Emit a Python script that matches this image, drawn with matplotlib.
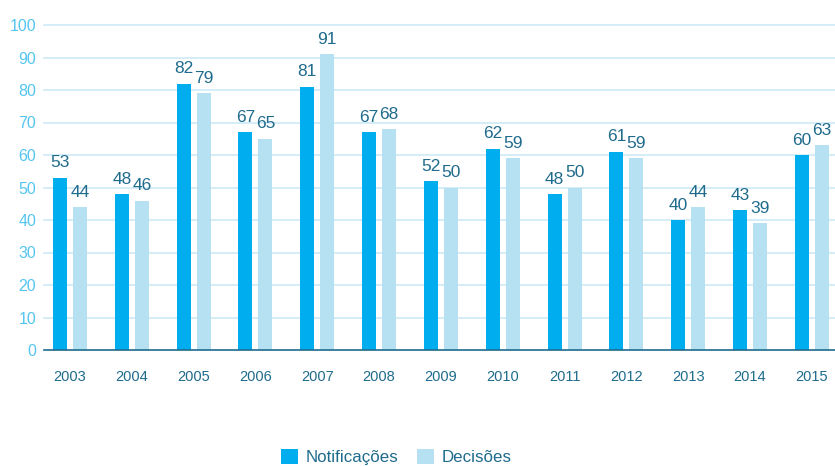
import matplotlib
matplotlib.use("Agg")
import matplotlib.pyplot as plt
import numpy as np

years = ["2003", "2004", "2005", "2006", "2007", "2008", "2009", "2010",
         "2011", "2012", "2013", "2014", "2015"]
notificacoes = [53, 48, 82, 67, 81, 67, 52, 62, 48, 61, 40, 43, 60]
decisoes = [44, 46, 79, 65, 91, 68, 50, 59, 50, 59, 44, 39, 63]
yticks = [0, 10, 20, 30, 40, 50, 60, 70, 80, 90, 100]

plt.rcParams['font.family'] = ['Liberation Sans', 'DejaVu Sans']

c_notif = "#00aeef"
c_dec = "#b5e1f3"
c_text = "#1f6b8c"
c_tick = "#55c5f0"
c_grid = "#cdeaf6"

fig = plt.figure(figsize=(8.35, 4.66), dpi=100)
ax = fig.add_axes([44/835, 116/466, 1 - 44/835, 325/466])

x = np.arange(len(years))
w = 0.227
off = 0.162
ax.bar(x - off, notificacoes, w, color=c_notif, label="Notificações", zorder=3)
ax.bar(x + off, decisoes, w, color=c_dec, label="Decisões", zorder=3)

for xi, v in zip(x, notificacoes):
    ax.text(xi - off, v + 2.3, str(v), ha="center", va="bottom", color=c_text, fontsize=12.5)
for xi, v in zip(x, decisoes):
    ax.text(xi + off, v + 2.3, str(v), ha="center", va="bottom", color=c_text, fontsize=12.5)

ax.set_xlim(-0.42, len(years) - 1 + 0.375)
ax.set_ylim(0, 100)
ax.set_yticks(yticks)
ax.set_yticklabels([str(t) for t in yticks], color=c_tick, fontsize=11.5)
ax.set_xticks(x)
ax.set_xticklabels(years, color=c_text, fontsize=10.5)
ax.tick_params(axis="both", length=0)
ax.tick_params(axis="y", pad=5.5)
ax.tick_params(axis="x", pad=14.5)

for t in yticks[1:]:
    ax.axhline(t, color=c_grid, lw=1.2, zorder=1, clip_on=False)
for s in ["top", "right", "left"]:
    ax.spines[s].set_visible(False)
ax.spines["bottom"].set_color(c_text)
ax.spines["bottom"].set_linewidth(1.2)
ax.spines["bottom"].set_zorder(4)

leg = fig.legend(loc="center", bbox_to_anchor=(396/835, 9/466), ncol=2, frameon=False,
                 fontsize=12.2, handlelength=1.0, handleheight=1.0, handletextpad=0.45,
                 columnspacing=1.1, borderpad=0)
for t in leg.get_texts():
    t.set_color(c_text)

fig.savefig("out.png", dpi=100)
